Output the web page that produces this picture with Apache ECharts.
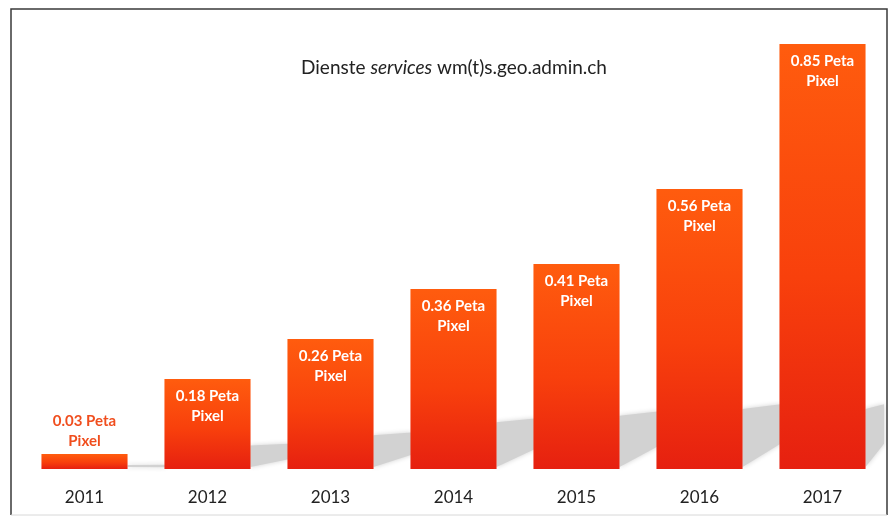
<!DOCTYPE html>
<html>
<head>
<meta charset="utf-8">
<script src="https://cdn.jsdelivr.net/npm/echarts@6/dist/echarts.min.js"></script>
<style>
  html, body { margin: 0; padding: 0; background: #fff; }
  #main { width: 896px; height: 523px; }
</style>
</head>
<body>
<div id="main"></div>
<script>
// Jahre und Werte (Peta Pixel)
var years = ['2011', '2012', '2013', '2014', '2015', '2016', '2017'];
var petaPixel = [0.03, 0.18, 0.26, 0.36, 0.41, 0.56, 0.85];
var unitText = 'Peta\nPixel';

var myChart = echarts.init(document.getElementById('main'));

//Schatten hinter den Balken
var shadowData = petaPixel.map(function(v, i) { return [i, v]; });

function renderShadow(params, api) {
    var idx = api.value(0), v = api.value(1);
    var top = api.coord([idx, v]);
    var base = api.coord([idx, 0]);
    var bw = api.size([1, 0])[0] * 0.7;
    var xr = top[0] + bw / 2;
    var h = Math.min((base[1] - top[1]) * 0.26, 60);
    var xEnd = Math.min(xr + 38, params.coordSys.x + params.coordSys.width);
    return {
        type: 'polygon',
        shape: {
            points: [
                [xr, base[1] - 2],
                [xr, base[1] - h],
                [xEnd, base[1] - h - h * 0.08],
                [xEnd, base[1] - h * 0.42]
            ]
        },
        style: {
            fill: '#d2d2d2',
            shadowBlur: 5,
            shadowColor: '#d2d2d2'
        }
    };
}

var option = {
    backgroundColor: '#fff',
    animation: false,
    title: {
        text: '{n|Dienste }{i|services}{n| wm(t)s.geo.admin.ch}',
        left: 449,
        textAlign: 'center',
        top: 53,
        textStyle: {
            fontWeight: 'normal',
            rich: {
                n: { fontFamily: 'Lato', fontSize: 19, fontWeight: 'normal', color: '#222' },
                i: { fontFamily: 'Lato', fontSize: 19, fontWeight: 'normal', fontStyle: 'italic', color: '#222' }
            }
        }
    },
    grid: { left: 23, right: 12, top: 19, bottom: 54 },
    xAxis: {
        type: 'category',
        data: years,
        axisLine: { show: false },
        axisTick: { show: false },
        axisLabel: {
            margin: 20,
            fontFamily: 'Lato',
            fontSize: 17,
            color: '#222'
        }
    },
    yAxis: {
        type: 'value',
        min: 0,
        max: 0.9,
        show: false
    },
    series: [{
        type: 'custom',
        z: 1,
        renderItem: renderShadow,
        data: shadowData,
        silent: true
    }, {
        type: 'bar',
        z: 2,
        barWidth: '70%',
        data: petaPixel.map(function(v, i) {
            var item = { value: v };
            if (i === 0) {
                item.label = {
                    position: 'top',
                    distance: 3,
                    color: '#F04E1E'
                };
            }
            return item;
        }),
        itemStyle: {
            color: new echarts.graphic.LinearGradient(0, 0, 0, 1, [
                { offset: 0, color: '#FF5C0E' },
                { offset: 0.55, color: '#F8400C' },
                { offset: 1, color: '#E62010' }
            ])
        },
        label: {
            show: true,
            position: 'insideTop',
            distance: 7,
            color: '#fff',
            fontFamily: 'Lato',
            fontWeight: 'bold',
            fontSize: 15,
            lineHeight: 20,
            formatter: function(p) {
                return p.value.toFixed(2) + ' ' + unitText;
            }
        }
    }],
    graphic: [{
        type: 'polyline',
        shape: { points: [[11, 515], [11, 9], [887, 9], [887, 515]] },
        style: { stroke: '#3a3a3a', lineWidth: 1.5, fill: null },
        z: 10
    }, {
        type: 'line',
        shape: { x1: 11, y1: 515, x2: 887, y2: 515 },
        style: { stroke: '#d8d8d8', lineWidth: 1 },
        z: 10
    }]
};

myChart.setOption(option);
</script>
</body>
</html>
